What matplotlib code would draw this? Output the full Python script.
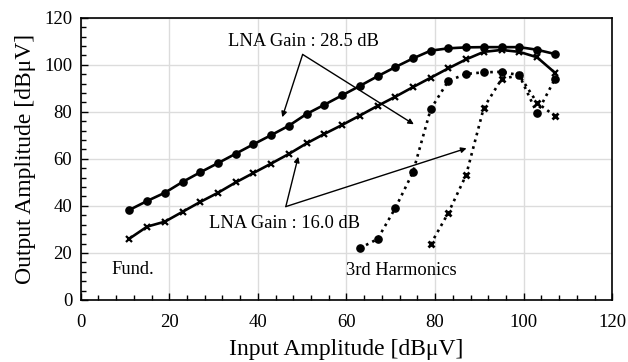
import numpy as np
import matplotlib
matplotlib.use('Agg')
import matplotlib.pyplot as plt
from matplotlib.ticker import MultipleLocator

plt.rcParams['font.family'] = ['Liberation Serif', 'DejaVu Serif']
plt.rcParams['mathtext.fontset'] = 'stix'

# fundamental: input amplitude [dBuV]
x_fund = [11, 15, 19, 23, 27, 31, 35, 39, 43, 47, 51, 55, 59,
          63, 67, 71, 75, 79, 83, 87, 91, 95, 99, 103, 107]
# LNA gain 28.5 dB (circles)
fund_285 = [38.3, 42.1, 45.6, 50.2, 54.3, 58.2, 62.2, 66.2, 70.1, 74.1, 79.1, 83.0, 87.0,
            91.0, 95.1, 99.0, 102.7, 106.0, 107.0, 107.4, 107.5, 107.5, 107.5, 106.4, 104.6]
# LNA gain 16.0 dB (crosses)
fund_160 = [26.1, 31.2, 33.3, 37.5, 41.7, 45.6, 50.0, 54.0, 58.0, 62.1, 66.6, 70.6, 74.4,
            78.4, 82.5, 86.4, 90.5, 94.5, 98.5, 102.3, 105.5, 106.3, 105.5, 103.2, 96.7]

# 3rd harmonics
x_h3_285 = [63, 67, 71, 75, 79, 83, 87, 91, 95, 99, 103, 107]
h3_285 = [22.0, 25.9, 39.0, 54.3, 81.1, 93.2, 96.1, 96.8, 97.0, 95.6, 79.4, 93.8]
x_h3_160 = [79, 83, 87, 91, 95, 99, 103, 107]
h3_160 = [23.7, 37.1, 53.1, 81.8, 93.9, 95.6, 83.9, 78.3]

fig = plt.figure(figsize=(6.28, 3.62), dpi=100)
ax = fig.add_axes([0.1285, 0.1713, 0.8465, 0.7797])

ax.plot(x_fund, fund_285, '-o', color='black', lw=1.9, ms=5.2, zorder=3)
ax.plot(x_fund, fund_160, '-x', color='black', lw=1.9, ms=4.5, mew=1.6, zorder=3)
ax.plot(x_h3_285, h3_285, ':o', color='black', lw=1.9, ms=5.2, zorder=3)
ax.plot(x_h3_160, h3_160, ':x', color='black', lw=1.9, ms=4.5, mew=2, zorder=3)

ax.set_xlim(0, 120)
ax.set_ylim(0, 120)
ax.xaxis.set_major_locator(MultipleLocator(20))
ax.yaxis.set_major_locator(MultipleLocator(20))
ax.xaxis.set_minor_locator(MultipleLocator(4))
ax.yaxis.set_minor_locator(MultipleLocator(4))
ax.tick_params(which='both', direction='in', labelsize=13.5, color='black')
ax.tick_params(which='major', length=5, width=1)
ax.tick_params(which='minor', length=3.5, width=1)
ax.tick_params(axis='x', pad=10)
ax.tick_params(axis='y', pad=6)
ax.grid(True, which='major', color='#dcdcdc', lw=1)
ax.set_axisbelow(True)
for s in ax.spines.values():
    s.set_linewidth(1.2)

ax.set_xlabel('Input Amplitude [dB\u03bcV]', fontsize=17, labelpad=6)
ax.set_ylabel('Output Amplitude [dB\u03bcV]', fontsize=17, labelpad=6)

arrow = dict(arrowstyle='-|>', color='black', lw=1, mutation_scale=8, shrinkA=0, shrinkB=0)
ax.text(50.2, 109.8, 'LNA Gain : 28.5 dB', ha='center', va='center', fontsize=13.3)
ax.annotate('', xy=(45.5, 77.7), xytext=(50.1, 104.4), arrowprops=arrow)
ax.annotate('', xy=(75.2, 74.7), xytext=(50.1, 104.4), arrowprops=arrow)

ax.text(46.1, 32.6, 'LNA Gain : 16.0 dB', ha='center', va='center', fontsize=13.3)
ax.annotate('', xy=(49.1, 60.9), xytext=(46.3, 39.7), arrowprops=arrow)
ax.annotate('', xy=(87.1, 64.5), xytext=(46.3, 39.7), arrowprops=arrow)

ax.text(7.0, 12.8, 'Fund.', ha='left', va='center', fontsize=13.3)
ax.text(59.9, 12.5, '3rd Harmonics', ha='left', va='center', fontsize=13.3)

fig.savefig('out.png', dpi=100)
